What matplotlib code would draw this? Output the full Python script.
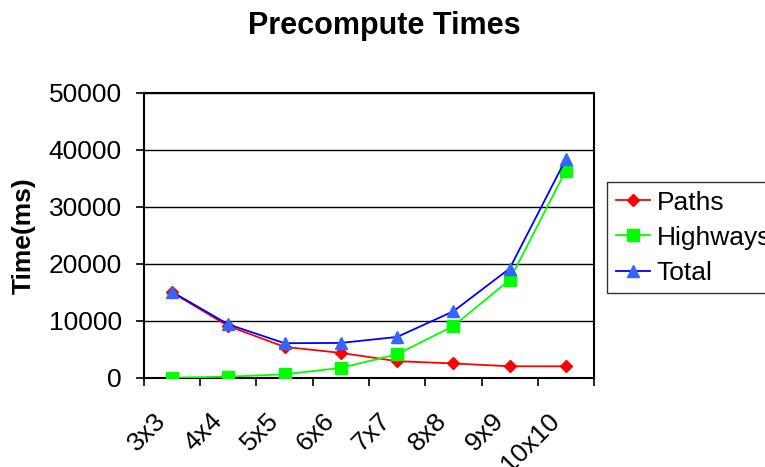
import matplotlib
matplotlib.use("Agg")
import matplotlib.pyplot as plt
import matplotlib.transforms as mtransforms
import numpy as np

plt.rcParams['font.family'] = ['Liberation Sans', 'DejaVu Sans']

sizes = ["3x3", "4x4", "5x5", "6x6", "7x7", "8x8", "9x9", "10x10"]
paths = [15000, 9100, 5450, 4400, 2950, 2550, 2050, 2050]
highways = [50, 230, 640, 1760, 4160, 9100, 17200, 36400]
total = [15100, 9400, 6100, 6150, 7200, 11700, 19200, 38400]
yticks = [0, 10000, 20000, 30000, 40000, 50000]

fig = plt.figure(figsize=(7.65, 4.67), dpi=100)
ax = fig.add_axes([0.1882, 0.1906, 0.5883, 0.6103])

x = np.arange(len(sizes))
ax.plot(x, paths, color="#FF0000", lw=1.3, marker="D", ms=6.5,
        mfc="#FF0000", mec="#FF0000", label="Paths", zorder=3)
ax.plot(x, highways, color="#00FF00", lw=1.3, marker="s", ms=8,
        mfc="#00FF00", mec="#00FF00", label="Highways", zorder=3)
ax.plot(x, total, color="#0000FF", lw=1.3, marker="^", ms=9,
        mfc="#3366FF", mec="#3366FF", label="Total", zorder=4)

ax.set_xlim(-0.5, len(sizes) - 0.5)
ax.set_ylim(0, 50000)
ax.set_yticks(yticks)
ax.set_yticklabels([str(v) for v in yticks], fontsize=19)
ax.yaxis.grid(True, color="black", lw=1.0)
ax.set_axisbelow(True)

# category boundaries carry the tick marks; labels sit between them
ax.set_xticks(np.arange(len(sizes) + 1) - 0.5)
ax.set_xticklabels([])
ax.set_xticks(x, minor=True)
ax.set_xticklabels(sizes, minor=True, fontsize=19, rotation=45,
                   ha="right", va="center", rotation_mode="anchor")
ax.tick_params(axis="x", which="minor", length=0, pad=28)
ax.tick_params(axis="x", which="major", direction="out", length=6, width=1.2)
ax.tick_params(axis="y", direction="out", length=6, width=1.2, pad=10)

# nudge the slanted labels so they end just left of each category centre
shift = mtransforms.ScaledTranslation(-0.10, 0.0, fig.dpi_scale_trans)
for lbl in ax.get_xticklabels(minor=True):
    lbl.set_transform(lbl.get_transform() + shift)

for s in ax.spines.values():
    s.set_linewidth(1.5)
    s.set_color("black")

ax.set_ylabel("Time(ms)", fontsize=19, fontweight="bold")
ax.yaxis.set_label_coords(-0.24, 0.5)
fig.suptitle("Precompute Times", fontsize=22, fontweight="bold",
             x=0.503, y=0.977)

leg = ax.legend(loc="upper left", bbox_to_anchor=(1.029, 0.688),
                fontsize=19, frameon=True, fancybox=False,
                handlelength=1.3, handletextpad=0.25, borderpad=0.33,
                labelspacing=0.42, borderaxespad=0)
leg.get_frame().set_edgecolor("black")
leg.get_frame().set_linewidth(1.0)

fig.savefig("out.png", dpi=100)
